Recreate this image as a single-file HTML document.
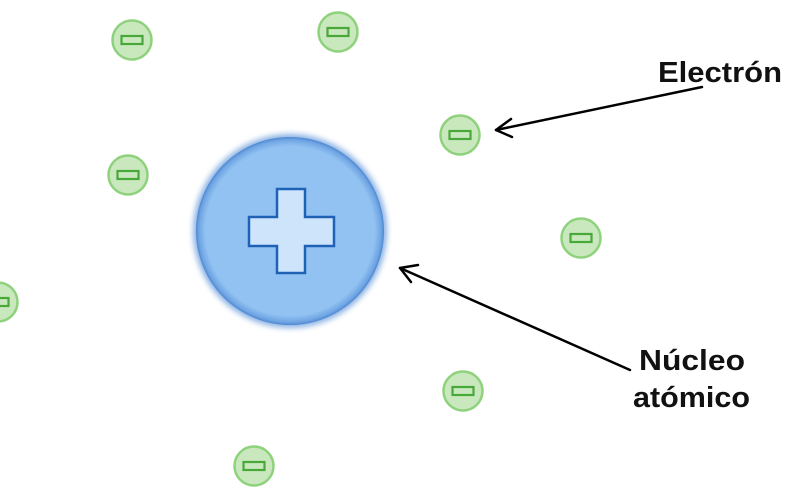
<!DOCTYPE html>
<html><head><meta charset="utf-8"><style>
html,body{margin:0;padding:0;background:#fff;width:800px;height:500px;overflow:hidden}
</style></head><body>
<svg width="800" height="500" viewBox="0 0 800 500" xmlns="http://www.w3.org/2000/svg">
<defs>
<radialGradient id="g" cx="50%" cy="50%" r="50%">
<stop offset="0.9" stop-color="#92c2f2"/>
<stop offset="0.97" stop-color="#6fa5e3"/>
<stop offset="1" stop-color="#4f88d2"/>
</radialGradient>
<filter id="b" x="-20%" y="-20%" width="140%" height="140%"><feGaussianBlur stdDeviation="3"/></filter>
<g id="e">
<circle r="19.5" fill="#c9e8bd" stroke="#8fd27d" stroke-width="2.5"/>
<rect x="-10.5" y="-4" width="21" height="8" fill="#c9e8bd" stroke="#49a83a" stroke-width="2.2"/>
</g>
</defs>
<circle cx="290" cy="231" r="97" fill="#5a92d8" opacity="0.7" filter="url(#b)"/>
<circle cx="290" cy="231" r="94" fill="url(#g)"/>
<path d="M277 189 H305 V217 H334 V246 H305 V273 H277 V246 H249 V217 H277 Z" fill="#cde4fb" stroke="#1f62b5" stroke-width="2.5"/>
<use href="#e" x="132" y="40"/>
<use href="#e" x="338" y="32"/>
<use href="#e" x="460" y="135"/>
<use href="#e" x="128" y="175"/>
<use href="#e" x="581" y="238"/>
<use href="#e" x="-2" y="302"/>
<use href="#e" x="463" y="391"/>
<use href="#e" x="254" y="466"/>
<g stroke="#000" stroke-width="2.5" fill="none" stroke-linecap="round" stroke-linejoin="round">
<path d="M702 87 L496 130"/>
<path d="M511 119 L496 130 L512 137"/>
<path d="M630 370 L400 268"/>
<path d="M418 265 L400 268 L411 282"/>
</g>
<g font-family="Liberation Sans, sans-serif" font-weight="bold" fill="#111" font-size="29">
<text x="658" y="82" textLength="124" lengthAdjust="spacingAndGlyphs">Electrón</text>
<text x="639" y="370" textLength="106" lengthAdjust="spacingAndGlyphs">Núcleo</text>
<text x="633" y="407" textLength="117" lengthAdjust="spacingAndGlyphs">atómico</text>
</g>
</svg>
</body></html>
